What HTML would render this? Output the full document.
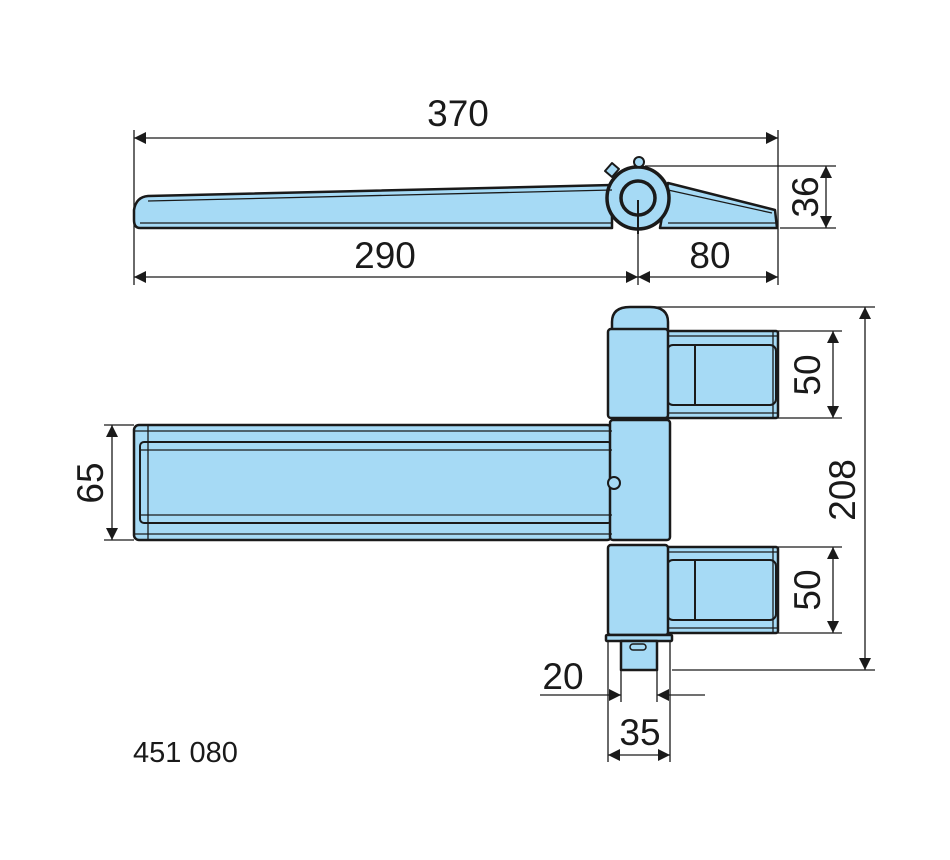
<!DOCTYPE html>
<html><head><meta charset="utf-8"><style>
html,body{margin:0;padding:0;background:#fff;}
svg{display:block}
text{font-family:"Liberation Sans",sans-serif;fill:#1a1a1a}
</style></head><body>
<svg width="950" height="860" viewBox="0 0 950 860" xmlns="http://www.w3.org/2000/svg">
<defs>
<marker id="a" viewBox="0 0 10 10" refX="10" refY="5" markerWidth="18" markerHeight="12" markerUnits="userSpaceOnUse" orient="auto-start-reverse"><path d="M0,0L10,5L0,10z" fill="#1a1a1a"/></marker>
</defs>
<g stroke="#1a1a1a" stroke-width="1.3" fill="none">
<line x1="134" y1="130" x2="134" y2="285"/>
<line x1="778" y1="130" x2="778" y2="285"/>
<line x1="638" y1="230" x2="638" y2="285"/>
<line x1="645" y1="166" x2="836" y2="166"/>
<line x1="780" y1="228" x2="836" y2="228"/>
<line x1="640" y1="307" x2="875" y2="307"/>
<line x1="672" y1="670" x2="875" y2="670"/>
<line x1="778" y1="331" x2="842" y2="331"/>
<line x1="778" y1="418" x2="842" y2="418"/>
<line x1="778" y1="547" x2="842" y2="547"/>
<line x1="778" y1="633" x2="842" y2="633"/>
<line x1="104" y1="425" x2="134" y2="425"/>
<line x1="104" y1="540" x2="134" y2="540"/>
<line x1="608" y1="640" x2="608" y2="762"/>
<line x1="670" y1="640" x2="670" y2="762"/>
<line x1="621" y1="660" x2="621" y2="702"/>
<line x1="657" y1="660" x2="657" y2="702"/>
<line x1="134" y1="138" x2="778" y2="138" marker-start="url(#a)" marker-end="url(#a)"/>
<line x1="134" y1="277" x2="638" y2="277" marker-start="url(#a)" marker-end="url(#a)"/>
<line x1="638" y1="277" x2="778" y2="277" marker-start="url(#a)" marker-end="url(#a)"/>
<line x1="826" y1="166" x2="826" y2="228" marker-start="url(#a)" marker-end="url(#a)"/>
<line x1="833" y1="331" x2="833" y2="418" marker-start="url(#a)" marker-end="url(#a)"/>
<line x1="833" y1="547" x2="833" y2="633" marker-start="url(#a)" marker-end="url(#a)"/>
<line x1="865" y1="307" x2="865" y2="670" marker-start="url(#a)" marker-end="url(#a)"/>
<line x1="112" y1="425" x2="112" y2="540" marker-start="url(#a)" marker-end="url(#a)"/>
<line x1="540" y1="695" x2="621" y2="695" marker-end="url(#a)"/>
<line x1="705" y1="695" x2="657" y2="695" marker-end="url(#a)"/>
<line x1="608" y1="755" x2="670" y2="755" marker-start="url(#a)" marker-end="url(#a)"/>
</g>
<g stroke="#1a1a1a" stroke-width="2.5" fill="#a6daf5" stroke-linejoin="round">
<path d="M148,196 L612,185 L612,228 L140,228 Q134,228 134,220 L134,210 Q136,197 148,196z"/>
<path d="M668,183 L775,210 L777,228 L660,228z"/>
<circle cx="638" cy="198" r="31" stroke-width="3.5"/>
<circle cx="638" cy="198" r="17" stroke-width="3.5"/>
<path d="M605,171 l7,-8 l7,6 l-7,8z" stroke-width="2"/>
<circle cx="639" cy="162" r="5" stroke-width="2"/>
</g>
<g stroke="#1a1a1a" stroke-width="1.3" fill="none">
<line x1="140" y1="223" x2="612" y2="223"/>
<line x1="148" y1="201" x2="612" y2="190"/>
<line x1="668" y1="190" x2="772" y2="213"/>
<line x1="668" y1="223" x2="777" y2="223"/>
<line x1="638" y1="200" x2="638" y2="234" stroke-width="2"/>
</g>
<g stroke="#1a1a1a" stroke-width="2.5" fill="#a6daf5" stroke-linejoin="round">
<rect x="134" y="425" width="478" height="115" rx="5"/>
<rect x="140" y="442" width="472" height="81" rx="4" stroke-width="2"/>
<rect x="663" y="331" width="115" height="87" rx="2"/>
<rect x="667" y="345" width="109" height="60" rx="6" stroke-width="2"/>
<rect x="663" y="547" width="115" height="86" rx="2"/>
<rect x="667" y="560" width="109" height="60" rx="6" stroke-width="2"/>
<path d="M612,330 L612,322 Q612,307 630,307 L650,307 Q668,307 668,322 L668,330z"/>
<rect x="608" y="329" width="60" height="89" rx="3"/>
<rect x="610" y="420" width="60" height="120" rx="3"/>
<rect x="608" y="545" width="60" height="90" rx="3"/>
<rect x="606" y="635" width="66" height="6" rx="1"/>
<rect x="621" y="641" width="36" height="29"/>
<rect x="630" y="644" width="16" height="6" rx="3" stroke-width="1.5"/>
<circle cx="614" cy="483" r="6" stroke-width="2"/>
</g>
<g stroke="#1a1a1a" stroke-width="1.3" fill="none">
<line x1="148" y1="425" x2="148" y2="540"/>
<line x1="134" y1="431" x2="612" y2="431"/>
<line x1="134" y1="534" x2="612" y2="534"/>
<line x1="140" y1="450" x2="612" y2="450"/>
<line x1="140" y1="515" x2="612" y2="515"/>
<line x1="695" y1="345" x2="695" y2="405" stroke-width="2"/>
<line x1="695" y1="560" x2="695" y2="620" stroke-width="2"/>
<line x1="667" y1="336" x2="778" y2="336"/>
<line x1="667" y1="413" x2="778" y2="413"/>
<line x1="667" y1="552" x2="778" y2="552"/>
<line x1="667" y1="628" x2="778" y2="628"/>
<line x1="773" y1="331" x2="773" y2="418"/>
<line x1="773" y1="547" x2="773" y2="633"/>
</g>
<g font-size="37">
<text x="458" y="126" text-anchor="middle">370</text>
<text x="385" y="268" text-anchor="middle">290</text>
<text x="710" y="268" text-anchor="middle">80</text>
<text x="563" y="689" text-anchor="middle">20</text>
<text x="640" y="745" text-anchor="middle">35</text>
<text transform="translate(818,197) rotate(-90)" text-anchor="middle">36</text>
<text transform="translate(820,375) rotate(-90)" text-anchor="middle">50</text>
<text transform="translate(820,590) rotate(-90)" text-anchor="middle">50</text>
<text transform="translate(855,490) rotate(-90)" text-anchor="middle">208</text>
<text transform="translate(103,483) rotate(-90)" text-anchor="middle">65</text>
</g>
<text x="133" y="762" font-size="29">451 080</text>
</svg>
</body></html>
